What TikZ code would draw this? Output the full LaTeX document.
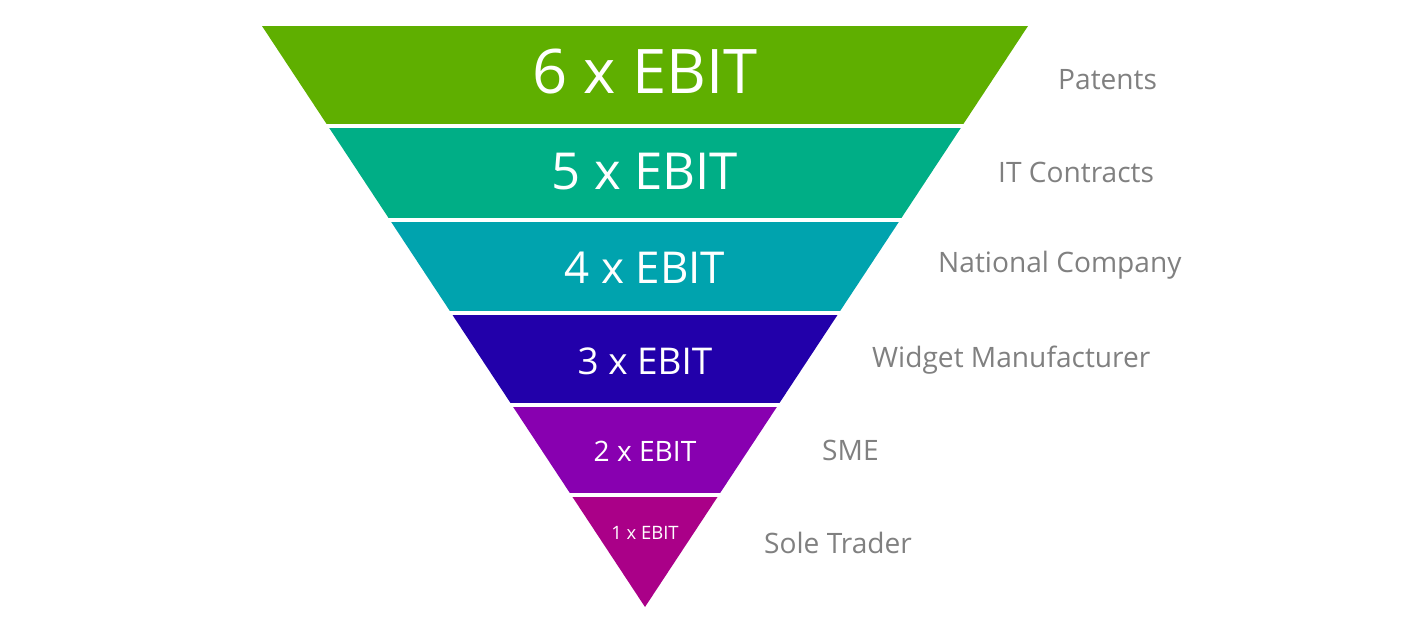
\documentclass[tikz,border=0pt]{standalone}
\usepackage{fontspec}
\setmainfont{Open Sans}
\definecolor{c1}{HTML}{5FAF00}
\definecolor{c2}{HTML}{00AE86}
\definecolor{c3}{HTML}{00A3AE}
\definecolor{c4}{HTML}{2200AA}
\definecolor{c5}{HTML}{8800B0}
\definecolor{c6}{HTML}{AA0088}
\definecolor{lab}{HTML}{808080}
\begin{document}
\begin{tikzpicture}[x=0.02cm,y=-0.02cm,
  bandtext/.style={text=white,anchor=center},
  labtext/.style={text=lab,anchor=west,font=\fontsize{16}{18}\selectfont}]
\useasboundingbox (0,0) rectangle (1417,635);
\begin{scope}
\clip (262,26) -- (1028,26) -- (645,607) -- cycle;
\fill[c1] (0,26) rectangle (1417,124);
\fill[c2] (0,128) rectangle (1417,218);
\fill[c3] (0,222) rectangle (1417,311);
\fill[c4] (0,315) rectangle (1417,403);
\fill[c5] (0,407) rectangle (1417,493);
\fill[c6] (0,497) rectangle (1417,610);
\end{scope}
\node[bandtext,font=\fontsize{35}{40}\selectfont] (b1) at (645,72) {6 x EBIT};
\node[bandtext,font=\fontsize{29}{34}\selectfont] (b2) at (645,172) {5 x EBIT};
\node[bandtext,font=\fontsize{25}{30}\selectfont] (b3) at (645,268) {4 x EBIT};
\node[bandtext,font=\fontsize{21}{25}\selectfont] (b4) at (645,361) {3 x EBIT};
\node[bandtext,font=\fontsize{16}{20}\selectfont] (b5) at (645,451) {2 x EBIT};
\node[bandtext,font=\fontsize{10.5}{13}\selectfont] (b6) at (645,533) {1 x EBIT};
\node[labtext] (l1) at (1052,80) {Patents};
\node[labtext] (l2) at (992,172) {IT Contracts};
\node[labtext] (l3) at (932,265) {National Company};
\node[labtext] (l4) at (866,360) {Widget Manufacturer};
\node[labtext] (l5) at (816,450) {SME};
\node[labtext] (l6) at (758,543) {Sole Trader};
\end{tikzpicture}
\end{document}
